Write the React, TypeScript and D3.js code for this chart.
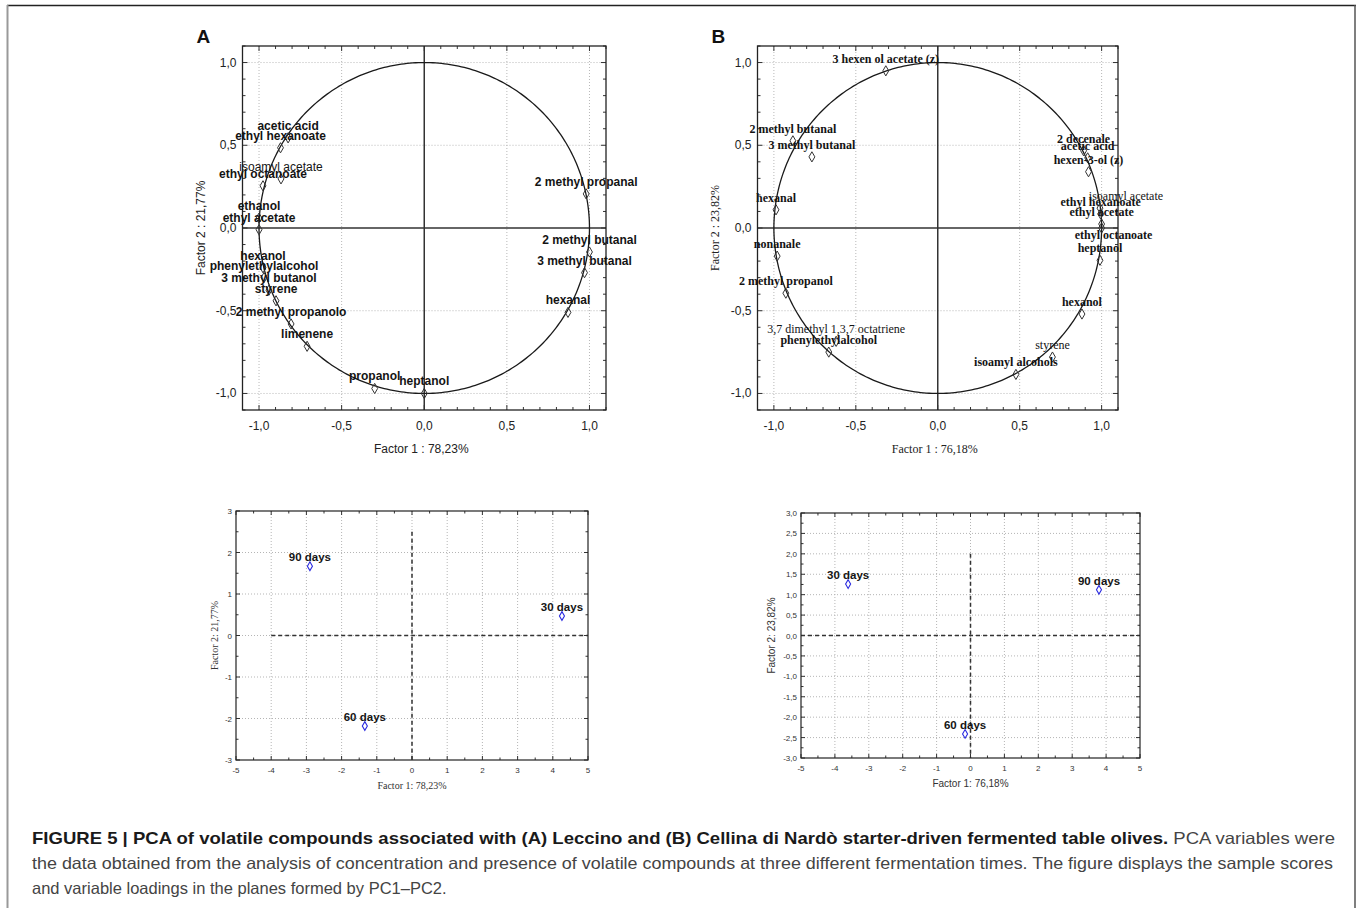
import React from "react";
import * as d3 from "d3";

// ---------- Panel A (Leccino) loadings ----------
const namesA = [
  "acetic acid", "ethyl hexanoate", "isoamyl acetate", "ethyl octanoate", "ethanol", "ethyl acetate",
  "hexanol", "phenylethylalcohol", "3 methyl butanol", "styrene", "2 methyl propanolo", "limenene",
  "propanol", "heptanol", "2 methyl propanal", "2 methyl butanal", "3 methyl butanal", "hexanal",
];
const factor1A = [-0.824, -0.87, -0.867, -0.976, -1.0, -1.0, -0.976, -0.97, -0.94, -0.897, -0.806, -0.709, -0.3, 0.0, 0.98, 1.0, 0.97, 0.87];
const factor2A = [0.545, 0.485, 0.297, 0.255, 0.06, -0.01, -0.24, -0.3, -0.376, -0.44, -0.58, -0.715, -0.97, -1.0, 0.206, -0.145, -0.27, -0.51];

// ---------- Panel B (Cellina di Nardò) loadings ----------
const namesB = [
  "3 hexen ol acetate (z)", "2 methyl butanal", "3 methyl butanal", "hexanal", "nonanale", "2 methyl propanol",
  "3,7 dimethyl 1,3,7 octatriene", "phenylethylalcohol", "2 decenale", "acetic acid", "hexen-3-ol (z)",
  "isoamyl acetate", "ethyl hexanoate", "ethyl acetate", "ethyl octanoate", "heptanol", "hexanol", "styrene", "isoamyl alcohols",
];
const factor1B = [-0.317, -0.884, -0.768, -0.987, -0.98, -0.927, -0.62, -0.665, 0.89, 0.915, 0.92, 0.99, 0.994, 1.0, 1.0, 0.99, 0.88, 0.7, 0.477];
const factor2B = [0.95, 0.527, 0.43, 0.11, -0.17, -0.394, -0.685, -0.75, 0.467, 0.424, 0.34, 0.12, 0.085, 0.024, 0.0, -0.195, -0.52, -0.78, -0.885];

// ---------- Scores ----------
const scoreLabels = ["30 days", "60 days", "90 days"];
const scoreF1A = [4.26, -1.34, -2.9];
const scoreF2A = [0.47, -2.18, 1.67];
const scoreF1B = [-3.61, -0.16, 3.79];
const scoreF2B = [1.26, -2.41, 1.12];

const loadingTicks = [-1, -0.5, 0, 0.5, 1];
const scoreXTicks = [-5, -4, -3, -2, -1, 0, 1, 2, 3, 4, 5];
const scoreYTicksA = [-3, -2, -1, 0, 1, 2, 3];
const scoreYTicksB = [-3, -2.5, -2, -1.5, -1, -0.5, 0, 0.5, 1, 1.5, 2, 2.5, 3];

// label tweaks (style, not data)
const lightA = new Set(["isoamyl acetate"]);
const lightB = new Set(["3,7 dimethyl 1,3,7 octatriene", "styrene", "isoamyl acetate"]);
const nudgeB: Record<string, [number, number]> = { "isoamyl acetate": [26, 0], "ethyl octanoate": [12, 19] };

const SANS = "'Liberation Sans', Arial, Helvetica, sans-serif";
const SERIF = "'Liberation Serif', 'Times New Roman', serif";

const comma1 = (v: number) => d3.format(".1f")(v).replace("−", "-").replace(".", ",");
const intFmt = (v: number) => d3.format("d")(v).replace("−", "-");

function LoadingPlot(p: {
  left: number; right: number; top: number; bottom: number;
  names: string[]; f1: number[]; f2: number[];
  labelFont: string; titleFont: string; xTitle: string; yTitle: string;
  yTitleX: number; letter: string; light: Set<string>; nudge: Record<string, [number, number]>;
}) {
  const x = d3.scaleLinear().domain([-1.1, 1.1]).range([p.left, p.right]);
  const y = d3.scaleLinear().domain([-1.1, 1.1]).range([p.bottom, p.top]);
  const angles = d3.range(0, 361).map((d) => (d * Math.PI) / 180);
  const circle = d3.line<number>().x((a) => x(Math.cos(a))).y((a) => y(Math.sin(a)))(angles) || "";
  const minors = d3.range(-11, 12).map((i) => i / 10);
  const diamond = d3.symbol().type(d3.symbolDiamond).size(30)() || "";
  const grid = loadingTicks.filter((t) => t !== 0);
  return (
    <g>
      <text x={p.left - 46} y={p.top - 3} fontFamily={SANS} fontWeight="bold" fontSize={19} fill="#111">{p.letter}</text>
      {grid.map((t) => (
        <g key={"g" + t}>
          <line x1={x(t)} x2={x(t)} y1={p.top} y2={p.bottom} stroke="#b8b8b8" strokeDasharray="1,2" />
          <line x1={p.left} x2={p.right} y1={y(t)} y2={y(t)} stroke="#b8b8b8" strokeDasharray="1,2" />
        </g>
      ))}
      <line x1={x(0)} x2={x(0)} y1={p.top} y2={p.bottom} stroke="#333" strokeWidth={1.5} />
      <line x1={p.left} x2={p.right} y1={y(0)} y2={y(0)} stroke="#333" strokeWidth={1.5} />
      <path d={circle} fill="none" stroke="#1a1a1a" strokeWidth={1.3} />
      {minors.map((t) => {
        const len = Math.abs(t * 2 - Math.round(t * 2)) < 1e-6 ? 5 : 3;
        return (
          <g key={"m" + t} stroke="#333" strokeWidth={1}>
            <line x1={x(t)} x2={x(t)} y1={p.bottom} y2={p.bottom - len} />
            <line x1={x(t)} x2={x(t)} y1={p.top} y2={p.top + len} />
            <line x1={p.left} x2={p.left + len} y1={y(t)} y2={y(t)} />
            <line x1={p.right} x2={p.right - len} y1={y(t)} y2={y(t)} />
          </g>
        );
      })}
      <rect x={p.left} y={p.top} width={p.right - p.left} height={p.bottom - p.top} fill="none" stroke="#222" strokeWidth={1.3} />
      {loadingTicks.map((t) => (
        <g key={"t" + t} fontFamily={SANS} fontSize={12} fill="#222">
          <text x={p.left - 6} y={y(t) + 4} textAnchor="end">{comma1(t)}</text>
          <text x={x(t)} y={p.bottom + 20} textAnchor="middle">{comma1(t)}</text>
        </g>
      ))}
      {p.names.map((n, i) => (
        <path key={"p" + i} d={diamond} transform={`translate(${x(p.f1[i])},${y(p.f2[i])})`} fill="none" stroke="#333" strokeWidth={1} />
      ))}
      {p.names.map((n, i) => {
        const nd = p.nudge[n] || [0, 0];
        return (
          <text key={"l" + i} x={x(p.f1[i]) + nd[0]} y={y(p.f2[i]) - 8 + nd[1]} textAnchor="middle"
            fontFamily={p.labelFont} fontSize={12} fontWeight={p.light.has(n) ? "normal" : "bold"} fill="#141414">
            {n}
          </text>
        );
      })}
      <text x={(p.left + p.right) / 2 - 3} y={p.bottom + 43} textAnchor="middle" fontFamily={p.titleFont} fontSize={12} fill="#222">{p.xTitle}</text>
      <text transform={`translate(${p.yTitleX},${y(0)}) rotate(-90)`} textAnchor="middle" fontFamily={p.titleFont} fontSize={12} fill="#222">{p.yTitle}</text>
    </g>
  );
}

function ScorePlot(p: {
  left: number; right: number; top: number; bottom: number;
  f1: number[]; f2: number[]; yTicks: number[]; yFmt: (v: number) => string;
  vTop: number; hLeft: number; xTitle: string; yTitle: string; titleFont: string; yTitleX: number;
}) {
  const x = d3.scaleLinear().domain([-5, 5]).range([p.left, p.right]);
  const y = d3.scaleLinear().domain([-3, 3]).range([p.bottom, p.top]);
  const diamond = d3.symbol().type(d3.symbolDiamond).size(22)() || "";
  const xMin = d3.range(-10, 11).map((i) => i / 2);
  const step = p.yTicks[1] - p.yTicks[0];
  const yMin = d3.range(-3, 3 + 1e-9, step / 2);
  return (
    <g>
      {scoreXTicks.slice(1, -1).map((t) => (
        <line key={"gx" + t} x1={x(t)} x2={x(t)} y1={p.top} y2={p.bottom} stroke="#b5b5b5" strokeDasharray="1,2" />
      ))}
      {p.yTicks.slice(1, -1).map((t) => (
        <line key={"gy" + t} x1={p.left} x2={p.right} y1={y(t)} y2={y(t)} stroke="#b5b5b5" strokeDasharray="1,2" />
      ))}
      <line x1={x(0)} x2={x(0)} y1={y(p.vTop)} y2={p.bottom} stroke="#333" strokeWidth={1.5} strokeDasharray="4,3" />
      <line x1={x(p.hLeft)} x2={p.right} y1={y(0)} y2={y(0)} stroke="#333" strokeWidth={1.5} strokeDasharray="4,3" />
      {xMin.map((t) => {
        const len = Number.isInteger(t) ? 4 : 2.5;
        return (
          <g key={"mx" + t} stroke="#333">
            <line x1={x(t)} x2={x(t)} y1={p.bottom} y2={p.bottom - len} />
            <line x1={x(t)} x2={x(t)} y1={p.top} y2={p.top + len} />
          </g>
        );
      })}
      {yMin.map((t, i) => {
        const len = i % 2 === 0 ? 4 : 2.5;
        return (
          <g key={"my" + i} stroke="#333">
            <line x1={p.left} x2={p.left + len} y1={y(t)} y2={y(t)} />
            <line x1={p.right} x2={p.right - len} y1={y(t)} y2={y(t)} />
          </g>
        );
      })}
      <rect x={p.left} y={p.top} width={p.right - p.left} height={p.bottom - p.top} fill="none" stroke="#222" strokeWidth={1.2} />
      {p.yTicks.map((t) => (
        <text key={"ty" + t} x={p.left - 4} y={y(t) + 3} textAnchor="end" fontFamily={SANS} fontSize={8} fill="#333">{p.yFmt(t)}</text>
      ))}
      {scoreXTicks.map((t) => (
        <text key={"tx" + t} x={x(t)} y={p.bottom + 13} textAnchor="middle" fontFamily={SANS} fontSize={8} fill="#333">{intFmt(t)}</text>
      ))}
      {scoreLabels.map((n, i) => (
        <g key={"s" + i}>
          <path d={diamond} transform={`translate(${x(p.f1[i])},${y(p.f2[i])})`} fill="#fff" stroke="#2a2ae0" strokeWidth={1.1} />
          <text x={x(p.f1[i])} y={y(p.f2[i]) - 5} textAnchor="middle" fontFamily={SANS} fontWeight="bold" fontSize={11.5} fill="#151515">{n}</text>
        </g>
      ))}
      <text x={(p.left + p.right) / 2} y={p.bottom + 29} textAnchor="middle" fontFamily={p.titleFont} fontSize={10} fill="#333">{p.xTitle}</text>
      <text transform={`translate(${p.yTitleX},${y(0)}) rotate(-90)`} textAnchor="middle" fontFamily={p.titleFont} fontSize={10} fill="#333">{p.yTitle}</text>
    </g>
  );
}

export default function App() {
  return (
    <svg width={1358} height={908} style={{ position: "absolute", left: 0, top: 0, background: "#fff" }}>
      <rect x={0} y={0} width={1358} height={908} fill="#fff" />
      <line x1={7} x2={1356} y1={5.5} y2={5.5} stroke="#222" strokeWidth={1.5} />
      <line x1={7.5} x2={7.5} y1={5} y2={908} stroke="#999" strokeWidth={2} />
      <line x1={1355} x2={1355} y1={5} y2={908} stroke="#555" strokeWidth={1.5} />

      <LoadingPlot left={242.5} right={606} top={46} bottom={410} names={namesA} f1={factor1A} f2={factor2A}
        labelFont={SANS} titleFont={SANS} xTitle="Factor 1 : 78,23%" yTitle="Factor 2 : 21,77%" yTitleX={205}
        letter="A" light={lightA} nudge={{}} />
      <LoadingPlot left={757.5} right={1118} top={46} bottom={410} names={namesB} f1={factor1B} f2={factor2B}
        labelFont={SERIF} titleFont={SERIF} xTitle="Factor 1 : 76,18%" yTitle="Factor 2 : 23,82%" yTitleX={719}
        letter="B" light={lightB} nudge={nudgeB} />

      <ScorePlot left={236} right={588} top={511} bottom={760} f1={scoreF1A} f2={scoreF2A}
        yTicks={scoreYTicksA} yFmt={intFmt} vTop={2.5} hLeft={-4}
        xTitle="Factor 1: 78,23%" yTitle="Factor 2: 21,77%" titleFont={SERIF} yTitleX={218} />
      <ScorePlot left={801} right={1140} top={513} bottom={758} f1={scoreF1B} f2={scoreF2B}
        yTicks={scoreYTicksB} yFmt={comma1} vTop={2.0} hLeft={-5}
        xTitle="Factor 1: 76,18%" yTitle="Factor 2: 23,82%" titleFont={SANS} yTitleX={775} />

      <g fontFamily={SANS} fontSize={16.5}>
        <text x={32} y={844} textLength={1303} lengthAdjust="spacingAndGlyphs">
          <tspan fontWeight="bold" fill="#1a1a1a">FIGURE 5 | PCA of volatile compounds associated with (A) Leccino and (B) Cellina di Nardò starter-driven fermented table olives.</tspan>
          <tspan fill="#444"> PCA variables were</tspan>
        </text>
        <text x={32} y={869} textLength={1301} lengthAdjust="spacingAndGlyphs" fill="#444">
          the data obtained from the analysis of concentration and presence of volatile compounds at three different fermentation times. The figure displays the sample scores
        </text>
        <text x={32} y={894} fill="#444">and variable loadings in the planes formed by PC1–PC2.</text>
      </g>
    </svg>
  );
}
